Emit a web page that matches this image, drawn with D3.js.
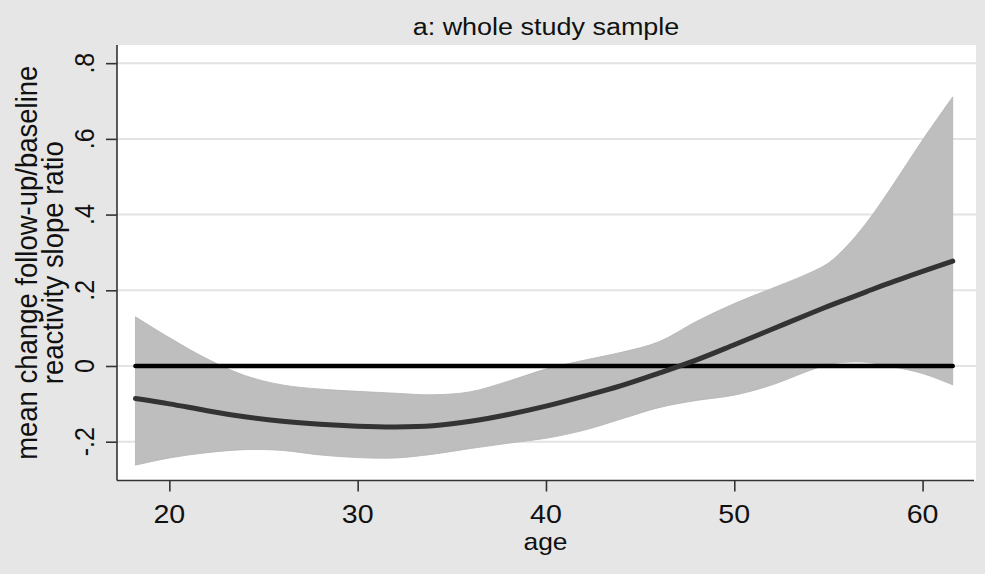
<!DOCTYPE html>
<html>
<head>
<meta charset="utf-8">
<script src="https://cdn.jsdelivr.net/npm/d3@7"></script>
<style>
    body { margin: 0; background: #e6e6e6; }
    svg { display: block; }
    text { font-family: "Liberation Sans", Arial, sans-serif; fill: #111; }
</style>
</head>
<body>
<div id="chart"></div>
<script>
// values
const ages = [18.2, 20, 22, 24, 26, 28, 30, 32, 34, 36, 38, 40, 42, 44, 46, 48, 50, 52, 54, 55, 56, 57, 58, 60, 61.6]
const fitValues = [-0.086, -0.100, -0.118, -0.134, -0.146, -0.154, -0.159, -0.161, -0.158, -0.146, -0.128, -0.106,
    -0.080, -0.052, -0.019, 0.016, 0.056, 0.097, 0.138, 0.158, 0.177, 0.196, 0.215, 0.250, 0.277]
const upperValues = [0.130, 0.075, 0.019, -0.025, -0.050, -0.061, -0.067, -0.072, -0.076, -0.068, -0.040, -0.008,
    0.015, 0.036, 0.064, 0.118, 0.165, 0.205, 0.246, 0.272, 0.318, 0.377, 0.447, 0.597, 0.711]
const lowerValues = [-0.262, -0.243, -0.229, -0.221, -0.223, -0.235, -0.242, -0.243, -0.233, -0.218, -0.204, -0.191,
    -0.170, -0.140, -0.110, -0.091, -0.077, -0.050, -0.012, 0.004, 0.010, 0.010, 0.002, -0.020, -0.050]
const referenceValue = 0

const xTicks = [20, 30, 40, 50, 60]
const yTicks = [-0.2, 0, 0.2, 0.4, 0.6, 0.8]
const yTickLabels = ["-.2", "0", ".2", ".4", ".6", ".8"]

const titleText = "a: whole study sample"
const xTitle = "age"
const yTitleLines = ["mean change follow-up/baseline", "reactivity slope ratio"]

function drawChart() {
    const width = 985
    const height = 574
    const plot = { left: 117, right: 976, top: 45, bottom: 480.5 }
    const axisRight = 974
    const stretch = 1.1   // the source image is a little wider than tall

    const svg = d3.select("#chart").append("svg")
        .attr("width", width)
        .attr("height", height)

    svg.append("rect")
        .attr("width", width)
        .attr("height", height)
        .attr("fill", "#e6e6e6")

    const xScale = d3.scaleLinear()
        .domain([17.22, 62.73])
        .range([plot.left, axisRight])

    const yScale = d3.scaleLinear()
        .domain([-0.3025, 0.848])
        .range([plot.bottom, plot.top])

    // white plot region
    svg.append("rect")
        .attr("x", plot.left)
        .attr("y", plot.top)
        .attr("width", plot.right - plot.left)
        .attr("height", plot.bottom - plot.top)
        .attr("fill", "#ffffff")

    // grid lines
    svg.append("g")
        .selectAll("line")
        .data(yTicks)
        .join("line")
            .attr("x1", plot.left)
            .attr("x2", plot.right)
            .attr("y1", d => yScale(d))
            .attr("y2", d => yScale(d))
            .attr("stroke", "#e3e3e3")
            .attr("stroke-width", 2)

    const data = ages.map((a, i) => ({ age: a, fit: fitValues[i], upper: upperValues[i], lower: lowerValues[i] }))

    const band = d3.area()
        .x(d => xScale(d.age))
        .y0(d => yScale(d.lower))
        .y1(d => yScale(d.upper))
        .curve(d3.curveCatmullRom.alpha(0.5))

    svg.append("path")
        .datum(data)
        .attr("d", band)
        .attr("fill", "#bebebe")
        .attr("stroke", "#b4b4b4")
        .attr("stroke-width", 0.8)

    // zero reference line
    svg.append("line")
        .attr("x1", xScale(d3.min(ages)))
        .attr("x2", xScale(d3.max(ages)))
        .attr("y1", yScale(referenceValue))
        .attr("y2", yScale(referenceValue))
        .attr("stroke", "#000")
        .attr("stroke-width", 4.5)
        .attr("stroke-linecap", "round")

    const fitLine = d3.line()
        .x(d => xScale(d.age))
        .y(d => yScale(d.fit))
        .curve(d3.curveCatmullRom.alpha(0.5))

    svg.append("path")
        .datum(data)
        .attr("d", fitLine)
        .attr("fill", "none")
        .attr("stroke", "#333")
        .attr("stroke-width", 5)
        .attr("stroke-linecap", "round")

    // axes
    const xAxis = svg.append("g")
        .attr("transform", `translate(0, ${plot.bottom})`)
        .call(d3.axisBottom(xScale).tickValues(xTicks).tickSize(11).tickFormat(""))
    xAxis.select(".domain").attr("d", `M${plot.left},0H${axisRight}`)

    const yAxis = svg.append("g")
        .attr("transform", `translate(${plot.left}, 0)`)
        .call(d3.axisLeft(yScale).tickValues(yTicks).tickSize(11).tickFormat(""))
    yAxis.select(".domain").attr("d", `M0,${plot.top}V${plot.bottom}`)

    svg.selectAll(".domain, .tick line")
        .attr("stroke", "#333")
        .attr("stroke-width", 1.6)

    // tick labels
    svg.append("g")
        .selectAll("text")
        .data(xTicks)
        .join("text")
            .attr("transform", d => `translate(${xScale(d)}, 523) scale(${stretch}, 1)`)
            .attr("text-anchor", "middle")
            .attr("font-size", 26)
            .text(d => d)

    svg.append("g")
        .selectAll("text")
        .data(yTicks)
        .join("text")
            .attr("transform", d => `translate(94, ${yScale(d)}) scale(${stretch}, 1) rotate(-90)`)
            .attr("text-anchor", "middle")
            .attr("font-size", 25)
            .text((d, i) => yTickLabels[i])

    // titles
    svg.append("text")
        .attr("transform", `translate(546, 35) scale(${stretch}, 1)`)
        .attr("text-anchor", "middle")
        .attr("font-size", 24.5)
        .text(titleText)

    svg.append("text")
        .attr("transform", `translate(${(plot.left + axisRight) / 2}, 550) scale(${stretch}, 1)`)
        .attr("text-anchor", "middle")
        .attr("font-size", 24)
        .text(xTitle)

    const yTitleX = [37, 63]
    svg.append("g")
        .selectAll("text")
        .data(yTitleLines)
        .join("text")
            .attr("transform", (d, i) => `translate(${yTitleX[i]}, ${(plot.top + plot.bottom) / 2}) scale(${stretch}, 1) rotate(-90)`)
            .attr("text-anchor", "middle")
            .attr("font-size", 27.5)
            .text(d => d)
}

drawChart()
</script>
</body>
</html>
